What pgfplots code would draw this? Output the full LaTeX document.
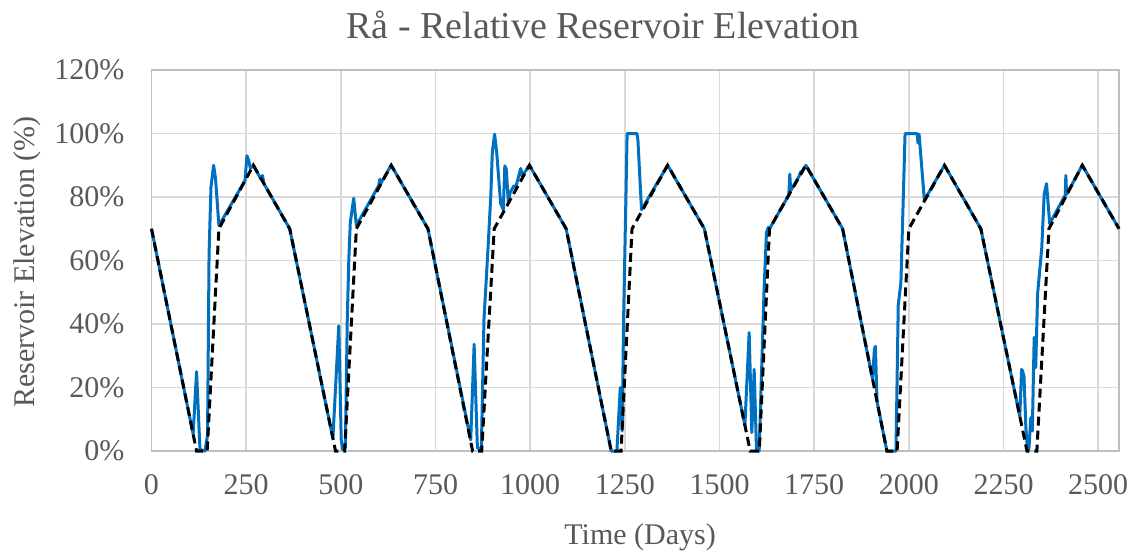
\documentclass[border=0pt]{standalone}
\usepackage{pgfplots}
\pgfplotsset{compat=1.18}
\usepackage{fontspec}
\setmainfont{Liberation Serif}
\definecolor{txt}{HTML}{595959}
\definecolor{gridc}{HTML}{D9D9D9}
\definecolor{axc}{HTML}{BFBFBF}
\definecolor{lineblue}{HTML}{0070C0}

\begin{document}
\begin{tikzpicture}
\useasboundingbox (-75.75pt,-51.5pt) rectangle (493.25pt,225.5pt);
\begin{axis}[
  at={(0,0)}, anchor=south west,
  scale only axis, width=483.75pt, height=190.5pt,
  xmin=0, xmax=2555, ymin=0, ymax=120,
  xtick={0,250,...,2500}, ytick={0,20,...,120},
  grid=major, grid style={gridc, line width=0.8pt},
  axis line style={axc, line width=0.8pt},
  major tick length=0pt,
  clip=false,
  tick label style={font=\fontsize{15}{18}\selectfont, text=txt},
  /pgf/number format/assume math mode=true,
  /pgf/number format/1000 sep={},
  yticklabel={\pgfmathprintnumber{\tick}\%},
  xticklabel style={yshift=-8pt},
  yticklabel style={xshift=-10pt},
  title={Rå - Relative Reservoir Elevation},
  title style={at={(0.4667,1.087)}, anchor=center, font=\fontsize{19}{23}\selectfont, text=txt},
  xlabel={Time (Days)},
  xlabel style={at={(axis description cs:0.505,-0.226)}, anchor=center, font=\fontsize{15}{18}\selectfont, text=txt},
  ylabel={Reservoir Elevation (\%)},
  ylabel style={at={(axis description cs:-0.1287,0.496)}, rotate=0, anchor=center, font=\fontsize{15}{18}\selectfont, text=txt},
]

% simulated elevation
\addplot[lineblue, line width=1.5pt, line join=round] coordinates {
(0,70) (110,5.3) (119,25) (128,0.5) (141,0) (148,5) (152,62) (157,83) (164,90) (169,86) (178,71)
(247,85.2) (252,93) (257,91.4) (261,89) (269,90) (289,85.6) (293,86.8) (297,84.2) (365,70)
(479,4) (483,13) (494.5,39.4) (501,3.7) (505,0.5) (512,1) (517,41.5) (521,60) (525,72) (534,79.6) (541,71)
(600,83.6) (603,85.6) (606,84.4) (633,90) (730,70)
(843,3.5) (852,33.6) (860.6,1) (871,0.5) (878,41.5) (882.6,51) (889,64.6) (896,80.3) (900,94) (906,99.8)
(911.6,94) (922,78) (929,76) (933,89.8) (937,88.7) (942.4,78) (947,81.4) (957,83.5) (961.8,83) (975,89)
(979,86.6) (998,90) (1095,70)
(1214,0) (1229,0) (1238,20) (1243,6.3) (1246.7,41.5) (1256,100) (1282,100) (1284.5,98) (1294,76)
(1363,90) (1460,70)
(1567,8.1) (1578.3,37.3) (1585.3,5.8) (1591.5,25.7) (1597.6,0.5) (1604.7,0) (1611,24.7) (1618,52)
(1624,68.8) (1628.5,70.4) (1632,70) (1683,80.6) (1685.6,87.2) (1688,82) (1710,86.5) (1714.6,88)
(1716,87.5) (1728,90) (1825,70)
(1904,22.7) (1909,32) (1911.6,33) (1916,15.6) (1942,0) (1966,0) (1972,46) (1979,53) (1990,100)
(2022,100) (2024,97) (2027,99.8) (2041,79) (2094,90) (2190,70)
(2293,10.9) (2297.7,25.7) (2300,25.3) (2304,23.6) (2309,7.4) (2313.5,0) (2317,0.5) (2322,10.5)
(2326,6.3) (2331,35.8) (2335,26.3) (2340,49.5) (2351,64) (2357.5,81) (2363.6,84.2) (2372,71.6)
(2413,80.6) (2414.6,86.8) (2416.5,80.8) (2458,90) (2555,70)
};

% rule curve
\addplot[black, line width=1.5pt, dash pattern=on 4.5pt off 2.5pt] coordinates {
(0,70) (119,0) (147,0) (178,70) (269,90) (365,70)
(486,0) (510,0) (541,70) (633,90) (730,70)
(848,0) (872,0) (905,70) (998,90) (1095,70)
(1214,0) (1240,0) (1269,70) (1363,90) (1460,70)
(1581,0) (1605,0) (1632,70) (1728,90) (1825,70)
(1942,0) (1969,0) (2000,70) (2094,90) (2190,70)
(2312,0) (2338,0) (2370,70) (2458,90) (2555,70)
};

\end{axis}
\end{tikzpicture}
\end{document}
